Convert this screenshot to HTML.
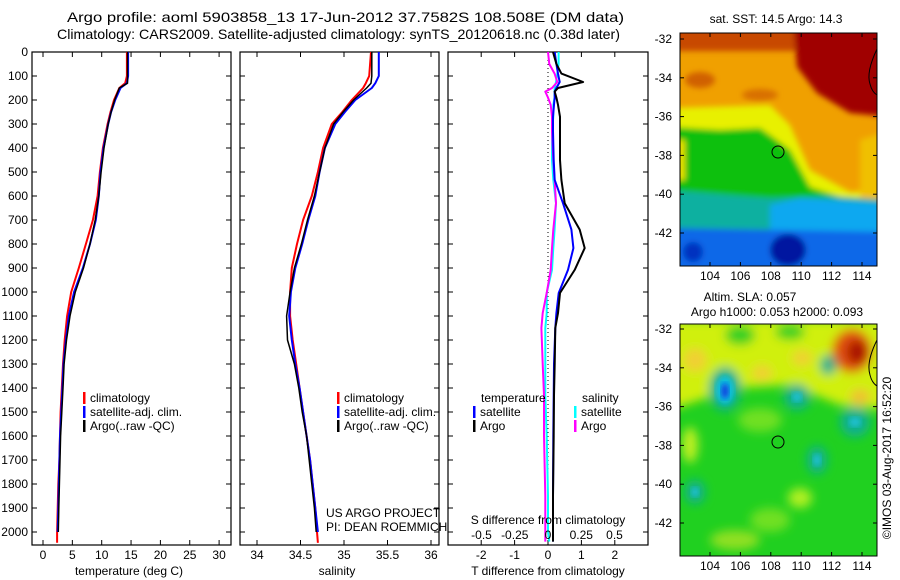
<!DOCTYPE html>
<html><head><meta charset="utf-8"><style>
body{margin:0;background:#fff;}
#root{position:relative;width:900px;height:580px;overflow:hidden;background:#fff;font-family:"Liberation Sans",sans-serif;}
svg text{font-family:"Liberation Sans",sans-serif;}
</style></head><body>
<div id="root">
<svg id="svg" width="900" height="580" viewBox="0 0 900 580">
<defs>
<filter id="bl" x="-10%" y="-10%" width="120%" height="120%"><feGaussianBlur stdDeviation="3"/></filter>
<filter id="bl2" x="-10%" y="-10%" width="120%" height="120%"><feGaussianBlur stdDeviation="5"/></filter>
<clipPath id="c1"><rect x="680" y="33" width="197" height="233"/></clipPath>
<clipPath id="c2"><rect x="680" y="324" width="197" height="232"/></clipPath>
</defs>
<text x="67" y="22" font-size="14" textLength="557" lengthAdjust="spacingAndGlyphs">Argo profile: aoml 5903858_13 17-Jun-2012 37.7582S 108.508E (DM data)</text>
<text x="57" y="39" font-size="14" textLength="563" lengthAdjust="spacingAndGlyphs">Climatology: CARS2009. Satellite-adjusted climatology: synTS_20120618.nc (0.38d later)</text>

<!-- SST map -->
<g clip-path="url(#c1)">
<rect x="680" y="33" width="197" height="233" fill="#f0a000"/>
<g filter="url(#bl)">
<rect x="670" y="25" width="220" height="26" fill="#c84800"/>
<ellipse cx="700" cy="80" rx="15" ry="8" fill="#d06000"/>
<ellipse cx="760" cy="95" rx="18" ry="6" fill="#d87000"/>
<polygon points="793,20 797,67 817,93 850,113 890,117 890,20" fill="#a00000"/>
<polygon points="670,108 770,105 790,125 810,170 850,192 890,190 890,280 670,280" fill="#e8f000"/>
<polygon points="860,140 890,130 890,200 860,200" fill="#f0c000"/>
<polygon points="670,127 720,130 760,128 770,135 790,150 810,187 850,200 890,203 890,280 670,280" fill="#10c010"/>
<polygon points="670,140 685,140 685,180 670,180" fill="#e8e000"/>
<polygon points="670,190 730,195 770,198 800,197 830,196 890,200 890,280 670,280" fill="#10b0a0"/>
<polygon points="770,205 800,198 890,204 890,280 770,280" fill="#10a8f0"/>
<polygon points="670,228 890,232 890,280 670,280" fill="#0a68e8"/>
<ellipse cx="788" cy="250" rx="18" ry="16" fill="#0018a0"/>
<ellipse cx="693" cy="252" rx="10" ry="10" fill="#0030c0"/>
</g>
</g>
<rect x="680" y="33" width="197" height="233" fill="none" stroke="#000"/>
<path d="M877,49 Q866,72 870,84 Q872,92 877,95" fill="none" stroke="#000" stroke-width="1"/>
<circle cx="778" cy="152" r="6" fill="none" stroke="#000"/>
<text x="776" y="23" font-size="12" text-anchor="middle">sat. SST: 14.5 Argo: 14.3</text>

<!-- SLA map -->
<g clip-path="url(#c2)">
<rect x="680" y="324" width="197" height="232" fill="#20d020"/>
<g filter="url(#bl2)">
<polygon points="670,320 890,320 890,410 840,405 790,385 740,388 700,400 670,410" fill="#d0f010"/>
<ellipse cx="740" cy="335" rx="15" ry="10" fill="#30d020"/>
<ellipse cx="790" cy="332" rx="15" ry="8" fill="#30d020"/>
<ellipse cx="695" cy="360" rx="12" ry="12" fill="#f0d030"/>
<ellipse cx="762" cy="373" rx="10" ry="8" fill="#f0d030"/>
<ellipse cx="802" cy="358" rx="10" ry="8" fill="#f0d030"/>
<ellipse cx="860" cy="397" rx="10" ry="8" fill="#f0c030"/>
<ellipse cx="852" cy="351" rx="20" ry="22" fill="#e05010"/>
<ellipse cx="857" cy="352" rx="10" ry="12" fill="#a81000"/>
<ellipse cx="725" cy="389" rx="16" ry="22" fill="#10b090"/>
<ellipse cx="797" cy="397" rx="13" ry="13" fill="#10b090"/>
<ellipse cx="855" cy="422" rx="15" ry="15" fill="#10b090"/>
<ellipse cx="817" cy="460" rx="10" ry="14" fill="#10b090"/>
<ellipse cx="695" cy="492" rx="10" ry="12" fill="#10b090"/>
<ellipse cx="828" cy="365" rx="8" ry="10" fill="#10b090"/>
<ellipse cx="760" cy="420" rx="22" ry="12" fill="#70e020"/>
<ellipse cx="800" cy="498" rx="12" ry="10" fill="#b0f020"/>
<ellipse cx="770" cy="520" rx="20" ry="12" fill="#70e020"/>
<ellipse cx="690" cy="445" rx="8" ry="18" fill="#c0f020"/>
<ellipse cx="735" cy="540" rx="25" ry="10" fill="#90e020"/>
</g>
<ellipse cx="725" cy="390" rx="9" ry="14" fill="#10c0e0" filter="url(#bl)"/>
<ellipse cx="725" cy="391" rx="4" ry="8" fill="#1040e0" filter="url(#bl)"/>
<ellipse cx="797" cy="397" rx="5" ry="5" fill="#20c0d0" filter="url(#bl)"/>
<ellipse cx="855" cy="422" rx="6" ry="5" fill="#20c0d0" filter="url(#bl)"/>
<ellipse cx="817" cy="460" rx="4" ry="6" fill="#20c0d0" filter="url(#bl)"/>
<ellipse cx="695" cy="492" rx="4" ry="5" fill="#20c0d0" filter="url(#bl)"/>
</g>
<rect x="680" y="324" width="197" height="232" fill="none" stroke="#000"/>
<path d="M877,340 Q866,362 870,375 Q872,383 877,386" fill="none" stroke="#000"/>
<circle cx="778" cy="442" r="6" fill="none" stroke="#000"/>
<text x="750" y="301" font-size="12" text-anchor="middle">Altim. SLA: 0.057</text>
<text x="777" y="316" font-size="12" text-anchor="middle">Argo h1000: 0.053 h2000: 0.093</text>
<text transform="translate(891,458) rotate(-90)" font-size="12" text-anchor="middle">©IMOS 03-Aug-2017 16:52:20</text>

<text x="326" y="517" font-size="12">US ARGO PROJECT</text>
<text x="326" y="531" font-size="12">PI: DEAN ROEMMICH</text>
</svg>
</div>
<script>
// ---- profile data ----
const depthTS = [0,100,130,150,200,250,300,400,500,600,700,800,900,1000,1100,1200,1300,1400,1500,1600,1700,1800,1900,2000,2045];
const tempClim = [14.3,14.3,14.0,13.0,12.1,11.5,11.0,10.2,9.7,9.3,8.5,7.3,6.1,4.8,4.1,3.7,3.4,3.2,3.0,2.9,2.8,2.6,2.5,2.4,2.4];
const tempSat = [14.5,14.5,14.3,13.2,12.3,11.6,11.1,10.3,9.8,9.5,9.0,8.0,6.8,5.3,4.4,3.9,3.5,3.3,3.1,2.9,2.8,2.7,2.6,2.5];
const tempArgo = [14.4,14.4,14.4,13.0,12.2,11.6,11.1,10.4,9.9,9.5,8.9,8.0,6.9,5.5,4.6,4.0,3.6,3.4,3.2,3.0,2.9,2.8,2.7,2.6];
const salClim = [35.31,35.29,35.25,35.22,35.09,34.98,34.86,34.76,34.70,34.63,34.53,34.46,34.40,34.38,34.38,34.41,34.45,34.49,34.53,34.57,34.61,34.64,34.67,34.69,34.70];
const salSat = [35.40,35.40,35.36,35.32,35.13,35.01,34.90,34.78,34.72,34.67,34.59,34.52,34.44,34.39,34.37,34.40,34.44,34.49,34.53,34.57,34.61,34.64,34.67,34.70];
const salArgo = [35.32,35.32,35.31,35.26,35.11,34.99,34.88,34.78,34.72,34.66,34.58,34.51,34.43,34.38,34.34,34.35,34.43,34.48,34.52,34.57,34.60,34.63,34.66,34.68];
const depthDiff = [0,50,90,125,150,165,190,220,270,330,450,533,630,740,817,908,1004,1088,1150,1300,1430,1600,1850,2000,2040];
const tDiffArgo = [0.15,0.25,0.4,1.05,0.3,0.2,0.25,0.3,0.36,0.36,0.36,0.4,0.5,0.95,1.1,0.8,0.36,0.3,0.22,0.2,0.18,0.17,0.15,0.15,0.15];
const tDiffSat = [0.2,0.25,0.3,0.35,0.25,0.2,0.2,0.18,0.15,0.15,0.17,0.2,0.45,0.7,0.76,0.6,0.32,0.25,0.22,0.18,0.17,0.16,0.15,0.15,0.15];
const sDiffSat = [0.08,0.08,0.07,0.06,0.05,0.05,0.05,0.04,0.04,0.03,0.03,0.04,0.06,0.05,0.04,0.03,-0.01,-0.01,-0.02,-0.02,-0.02,-0.01,0,0,0.01];
const sDiffArgo = [0,0.01,0.05,0.07,0.03,-0.02,0.0,0.02,0.03,0.03,0.04,0.05,0.06,0.04,0.03,0.02,-0.01,-0.04,-0.05,-0.04,-0.03,-0.03,-0.02,-0.02,-0.02];
const depthTicks = [0,100,200,300,400,500,600,700,800,900,1000,1100,1200,1300,1400,1500,1600,1700,1800,1900,2000];
const tempTicks = [0,5,10,15,20,25,30];
const salTicks = ['34','34.5','35','35.5','36'];
const tdTicks = ['-2','-1','0','1','2'];
const sdTicks = ['-0.5','-0.25','0','0.25','0.5'];
const latTicks = [-32,-34,-36,-38,-40,-42];
const lonTicks = [104,106,108,110,112,114];

const NS='http://www.w3.org/2000/svg';
const svg=document.getElementById('svg');
function mk(tag,attrs,parent){const e=document.createElementNS(NS,tag);for(const k in attrs)e.setAttribute(k,attrs[k]);(parent||svg).appendChild(e);return e;}
const TOP=52, BOT=545;
const yD=d=>TOP+d*0.24;
const xT=v=>43+v*5.87;
const xS=v=>257+(v-34)*87;
const xTd=v=>548+v*33.4;
const xSd=v=>548+v*133;

function frame(x0,x1,name){
  const r=mk('rect',{x:x0,y:TOP,width:x1-x0,height:BOT-TOP,fill:'none',stroke:'#000','stroke-width':1.2});
  
  
  depthTicks.forEach(d=>{
    mk('line',{x1:x0,x2:x0+5,y1:yD(d),y2:yD(d),stroke:'#000'});
    mk('line',{x1:x1-5,x2:x1,y1:yD(d),y2:yD(d),stroke:'#000'});
  });
}
function line(xs,ys,xf,color,w,name){
  let p=[];for(let i=0;i<xs.length;i++)p.push(xf(xs[i]).toFixed(1)+','+yD(ys[i]).toFixed(1));
  const e=mk('polyline',{points:p.join(' '),fill:'none',stroke:color,'stroke-width':w,'stroke-linejoin':'round'});
  
  
}
function xtick(x,label,name){
  mk('line',{x1:x,x2:x,y1:BOT,y2:BOT-5,stroke:'#000'});
  mk('line',{x1:x,x2:x,y1:TOP,y2:TOP+5,stroke:'#000'});
  const t=mk('text',{x:x,y:559,'font-size':12,'text-anchor':'middle'});t.textContent=label;
  
  
}
function legendEntry(x,y,color,label,name){
  mk('rect',{x:x,y:y-6,width:2.5,height:12,fill:color});
  const t=mk('text',{x:x+7,y:y+4,'font-size':12});t.textContent=label;
  
  
}
depthTicks.forEach(d=>{const t=mk('text',{x:28,y:yD(d)+4,'font-size':12,'text-anchor':'end'});t.textContent=d;
  
  });

// Panel 1
frame(32,231,'temperature-panel');
tempTicks.forEach(v=>xtick(xT(v),String(v),'temperature-tick-label'));
line(tempClim,depthTS,xT,'#f00',2,'temp-climatology-line');
line(tempSat,depthTS,xT,'#00f',2,'temp-satellite-line');
line(tempArgo,depthTS,xT,'#000',1.5,'temp-argo-line');
{const t=mk('text',{x:129,y:575,'font-size':12,'text-anchor':'middle'});t.textContent='temperature (deg C)';
}
legendEntry(83,398,'#f00','climatology','legend-climatology');
legendEntry(83,412,'#00f','satellite-adj. clim.','legend-satellite');
legendEntry(83,426,'#000','Argo(..raw -QC)','legend-argo');

// Panel 2
frame(240,439,'salinity-panel');
salTicks.forEach(v=>xtick(xS(parseFloat(v)),v,'salinity-tick-label'));
line(salClim,depthTS,xS,'#f00',2,'sal-climatology-line');
line(salSat,depthTS,xS,'#00f',2,'sal-satellite-line');
line(salArgo,depthTS,xS,'#000',1.5,'sal-argo-line');
{const t=mk('text',{x:337,y:575,'font-size':12,'text-anchor':'middle'});t.textContent='salinity';
}
legendEntry(337,398,'#f00','climatology','legend-climatology-2');
legendEntry(337,412,'#00f','satellite-adj. clim.','legend-satellite-2');
legendEntry(337,426,'#000','Argo(..raw -QC)','legend-argo-2');

// Panel 3
frame(448,648,'difference-panel');
tdTicks.forEach(v=>xtick(xTd(parseFloat(v)),v,'t-diff-tick-label'));
mk('line',{x1:548,x2:548,y1:TOP,y2:BOT,stroke:'#000','stroke-dasharray':'1,3'});
line(sDiffSat,depthDiff,xSd,'#0ff',2,'sdiff-satellite-line');
line(sDiffArgo,depthDiff,xSd,'#f0f',2,'sdiff-argo-line');
line(tDiffSat,depthDiff,xTd,'#00f',2,'tdiff-satellite-line');
line(tDiffArgo,depthDiff,xTd,'#000',2,'tdiff-argo-line');
sdTicks.forEach(v=>{const t=mk('text',{x:xSd(parseFloat(v)),y:539,'font-size':12,'text-anchor':'middle'});t.textContent=v;
  });
{const t=mk('text',{x:548,y:524,'font-size':12,'text-anchor':'middle'});t.textContent='S difference from climatology';
}
{const t=mk('text',{x:548,y:575,'font-size':12,'text-anchor':'middle'});t.textContent='T difference from climatology';
}
{const t=mk('text',{x:481,y:402,'font-size':12});t.textContent='temperature';
}
{const t=mk('text',{x:582,y:402,'font-size':12});t.textContent='salinity';
}
legendEntry(473,412,'#00f','satellite','legend-t-satellite');
legendEntry(473,426,'#000','Argo','legend-t-argo');
legendEntry(574,412,'#0ff','satellite','legend-s-satellite');
legendEntry(574,426,'#f0f','Argo','legend-s-argo');

// Map axes
const lonX=v=>710+(v-104)*15.2;
function mapAxes(top,bot,lat32,lat42,prefix){
  const ly=v=>lat32+(-32-v)/10*(lat42-lat32);
  latTicks.forEach(v=>{
    mk('line',{x1:680,x2:684,y1:ly(v),y2:ly(v),stroke:'#000'});
    mk('line',{x1:873,x2:877,y1:ly(v),y2:ly(v),stroke:'#000'});
    const t=mk('text',{x:672,y:ly(v)+4,'font-size':12,'text-anchor':'end'});t.textContent=v;
    
  });
  lonTicks.forEach(v=>{
    mk('line',{x1:lonX(v),x2:lonX(v),y1:top,y2:top+4,stroke:'#000'});
    mk('line',{x1:lonX(v),x2:lonX(v),y1:bot-4,y2:bot,stroke:'#000'});
    const t=mk('text',{x:lonX(v),y:bot+14,'font-size':12,'text-anchor':'middle'});t.textContent=v;
    
  });
}
mapAxes(33,266,39,233,'sst');
mapAxes(324,556,329,523,'sla');
</script>
</body></html>
